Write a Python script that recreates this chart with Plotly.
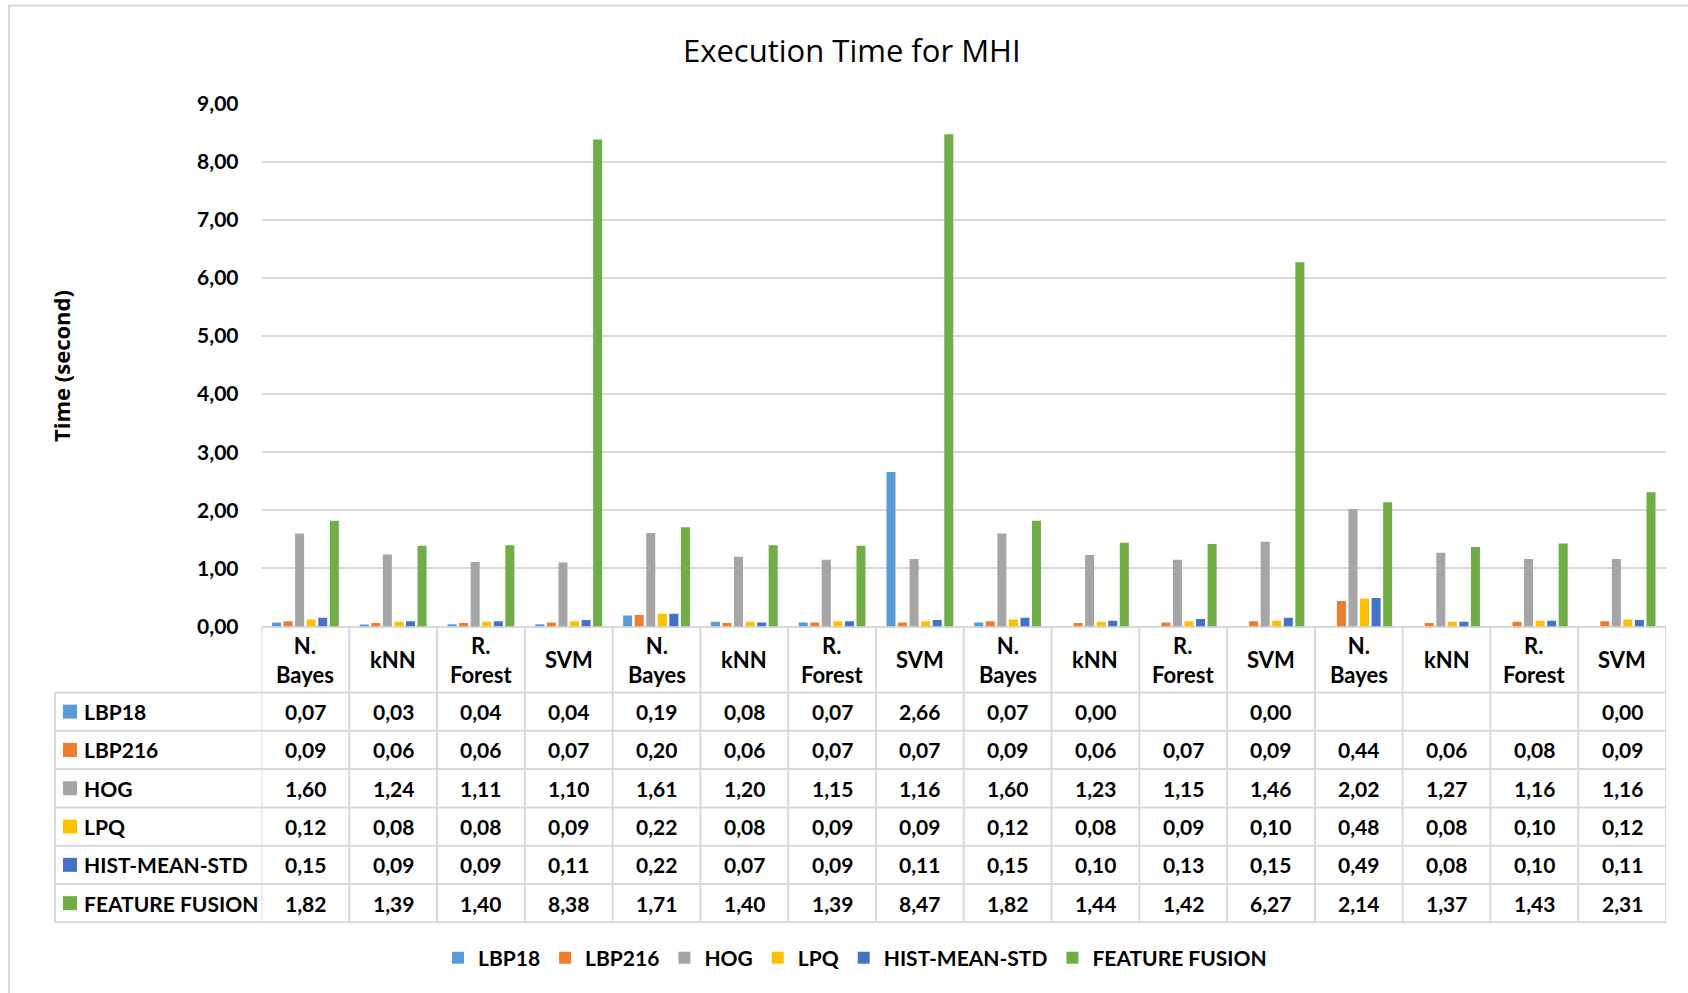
import plotly.graph_objects as go

# chart data
categories = ["N.<br>Bayes", "kNN", "R.<br>Forest", "SVM"] * 4
series_names = ["LBP18", "LBP216", "HOG", "LPQ", "HIST-MEAN-STD", "FEATURE FUSION"]
lbp18 = [0.07, 0.03, 0.04, 0.04, 0.19, 0.08, 0.07, 2.66, 0.07, 0.00, None, 0.00, None, None, None, 0.00]
lbp216 = [0.09, 0.06, 0.06, 0.07, 0.20, 0.06, 0.07, 0.07, 0.09, 0.06, 0.07, 0.09, 0.44, 0.06, 0.08, 0.09]
hog = [1.60, 1.24, 1.11, 1.10, 1.61, 1.20, 1.15, 1.16, 1.60, 1.23, 1.15, 1.46, 2.02, 1.27, 1.16, 1.16]
lpq = [0.12, 0.08, 0.08, 0.09, 0.22, 0.08, 0.09, 0.09, 0.12, 0.08, 0.09, 0.10, 0.48, 0.08, 0.10, 0.12]
hist_mean_std = [0.15, 0.09, 0.09, 0.11, 0.22, 0.07, 0.09, 0.11, 0.15, 0.10, 0.13, 0.15, 0.49, 0.08, 0.10, 0.11]
feature_fusion = [1.82, 1.39, 1.40, 8.38, 1.71, 1.40, 1.39, 8.47, 1.82, 1.44, 1.42, 6.27, 2.14, 1.37, 1.43, 2.31]
y_ticks = [0, 1, 2, 3, 4, 5, 6, 7, 8, 9]

series = [lbp18, lbp216, hog, lpq, hist_mean_std, feature_fusion]
colors = ["#5B9BD5", "#ED7D31", "#A5A5A5", "#FFC000", "#4472C4", "#70AD47"]

W, H = 1688, 993
FONT = "Lato"
GRID = "#d9d9d9"


def px(x):
    return x / W


def py(y):
    return 1 - y / H


# layout geometry (pixels in the 1688x993 page)
plot_left, plot_right = 261.5, 1666
plot_top, plot_bottom = 103.5, 626.5
table_left = 55
header_bot = 692.5
row_h = 38.3
table_bot = header_bot + row_h * len(series)

x_idx = list(range(len(categories)))

fig = go.Figure()
for name, vals, col in zip(series_names, series, colors):
    fig.add_trace(go.Bar(
        x=x_idx,
        y=vals,
        name=name,
        marker=dict(color=col, line=dict(width=0)),
        hoverinfo="skip"
    ))

shapes = []
annotations = []

# table grid lines
line = dict(color=GRID, width=2)
for i in range(len(categories) + 1):
    shapes.append(dict(type="line", xref="x", yref="paper",
                       x0=i - 0.5, x1=i - 0.5, y0=py(plot_bottom), y1=py(table_bot), line=line))
shapes.append(dict(type="line", xref="paper", yref="paper",
                   x0=px(table_left), x1=px(table_left), y0=py(header_bot), y1=py(table_bot), line=line))
for k in range(len(series) + 1):
    yy = header_bot + k * row_h
    shapes.append(dict(type="line", xref="paper", yref="paper",
                       x0=px(table_left), x1=px(plot_right), y0=py(yy), y1=py(yy), line=line))

# outer chart border (left and top only are visible)
shapes.append(dict(type="path", xref="paper", yref="paper",
                   path=f"M {px(9)},0 L {px(9)},{py(5.5)} L 1,{py(5.5)}",
                   line=dict(color=GRID, width=2)))

# header row: category labels
for i, cat in enumerate(categories):
    annotations.append(dict(x=i, y=py((plot_bottom + header_bot) / 2), xref="x", yref="paper",
                            text=cat, showarrow=False, xanchor="center", yanchor="middle",
                            font=dict(family=FONT, size=22, color="#000000", weight="bold")))

# data rows
for k, (name, vals, col) in enumerate(zip(series_names, series, colors)):
    yc = header_bot + (k + 0.5) * row_h
    shapes.append(dict(type="rect", xref="paper", yref="paper",
                       x0=px(63), x1=px(77), y0=py(yc - 7), y1=py(yc + 7),
                       fillcolor=col, line=dict(width=0)))
    annotations.append(dict(x=px(82), y=py(yc), xref="paper", yref="paper",
                            text=name, showarrow=False, xanchor="left", yanchor="middle",
                            font=dict(family=FONT, size=21, color="#000000", weight="bold")))
    for i, v in enumerate(vals):
        if v is None:
            continue
        annotations.append(dict(x=i, y=py(yc), xref="x", yref="paper",
                                text=f"{v:.2f}".replace(".", ","), showarrow=False,
                                xanchor="center", yanchor="middle",
                                font=dict(family=FONT, size=21, color="#000000", weight="bold")))

# y-axis title
annotations.append(dict(x=px(61), y=py(366), xref="paper", yref="paper",
                        text="Time (second)", textangle=-90, showarrow=False,
                        xanchor="center", yanchor="middle",
                        font=dict(family="Open Sans", size=22, color="#000000", weight="bold")))

# chart title
annotations.append(dict(x=px(852), y=py(50), xref="paper", yref="paper",
                        text="Execution Time for MHI", showarrow=False,
                        xanchor="center", yanchor="middle",
                        font=dict(family="Open Sans", size=31, color="#000000")))

fig.update_layout(
    width=W,
    height=H,
    margin=dict(l=0, r=0, t=0, b=0, pad=0, autoexpand=False),
    paper_bgcolor="white",
    plot_bgcolor="white",
    separators=",.",
    barmode="group",
    bargap=0.21,
    bargroupgap=0.22,
    showlegend=True,
    legend=dict(orientation="h", x=px(855), y=py(958), xanchor="center", yanchor="middle",
                font=dict(family=FONT, size=21, color="#000000", weight="bold"),
                itemwidth=30, tracegroupgap=0, bgcolor="rgba(0,0,0,0)"),
    xaxis=dict(
        domain=[px(plot_left), px(plot_right)],
        range=[-0.5, len(categories) - 0.5],
        showticklabels=False,
        showgrid=False,
        zeroline=False,
        showline=False,
        ticks="",
        automargin=False
    ),
    yaxis=dict(
        domain=[py(plot_bottom), py(plot_top)],
        range=[0, 9],
        tickvals=y_ticks,
        tickformat=".2f",
        showgrid=True,
        gridcolor=GRID,
        gridwidth=2,
        zeroline=True,
        zerolinecolor=GRID,
        zerolinewidth=2,
        showline=False,
        ticks="",
        ticklabelstandoff=22,
        automargin=False,
        tickfont=dict(family=FONT, size=21, color="#000000", weight="bold")
    ),
    shapes=shapes,
    annotations=annotations,
)

# page has no body margin, so the figure sits at the window's top-left corner
fig.write_html("out.html", config={"displayModeBar": False},
               post_script="document.body.style.margin='0';")
